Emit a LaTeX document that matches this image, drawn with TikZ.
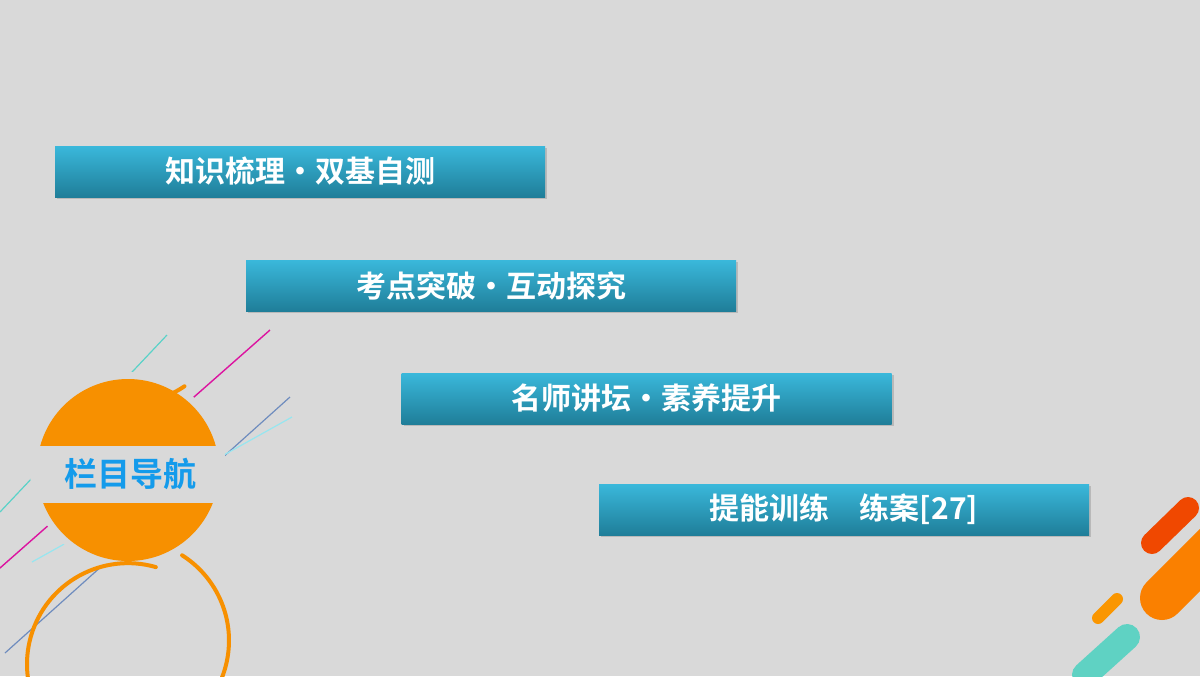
\documentclass[tikz,border=0pt]{standalone}
\usepackage{fontspec}
\newfontfamily\cjk{Noto Sans CJK SC Bold}
\definecolor{bg}{HTML}{D9D9D9}
\definecolor{org}{HTML}{F79000}
\definecolor{bt}{HTML}{3AB8DB}
\definecolor{bb}{HTML}{1F7E99}
\tikzset{banner/.style={minimum width=245pt,minimum height=25.5pt,inner sep=0pt,
  top color=bt,bottom color=bb,draw=none,text=white,font=\cjk\fontsize{15}{15}\selectfont,
  drop shadow={shadow xshift=1pt,shadow yshift=-1pt,opacity=0.35}},
 pill/.style={line cap=round}}
\usetikzlibrary{shadows}
\begin{document}
\begin{tikzpicture}[x=0.5pt,y=-0.5pt]
\fill[bg] (0,0) rectangle (1200,676);
\useasboundingbox (0,0) rectangle (1200,676);
% diagonal lines
\draw[color={rgb,255:red,90;green,210;blue,200},line width=0.6pt] (0,512) -- (167,335);
\draw[color={rgb,255:red,220;green,20;blue,160},line width=0.7pt] (0,568) -- (270,330);
\draw[color={rgb,255:red,110;green,140;blue,190},line width=0.6pt] (5,653) -- (290,397);
\draw[color={rgb,255:red,150;green,230;blue,240},line width=0.6pt] (32,562) -- (292,417);
% circle
\fill[bg] (128,470) circle (98);
\begin{scope}
\clip (128,470) circle (91);
\fill[org] (20,360) rectangle (240,446);
\fill[org] (20,503) rectangle (240,580);
\end{scope}
\begin{scope}[org,line width=2pt,line cap=round]
\draw ([shift={(74:101)}]128,470) arc[start angle=-74,end angle=-268,radius=101];
\draw ([shift={(57.6:101)}]128,470) arc[start angle=-57.6,end angle=42,radius=101];
\draw ([shift={(-56:101)}]128,470) arc[start angle=56,end angle=70,radius=101];
\end{scope}
\node[font=\cjk\fontsize{16.5}{16.5}\selectfont,text={rgb,255:red,20;green,155;blue,235}] (nav) at (130,474) {栏目导航};
% banners
\node[banner] (b1) at (300,171.5) {知识梳理·双基自测};
\node[banner] (b2) at (491,285.5) {考点突破·互动探究};
\node[banner] (b3) at (646.5,398.5) {名师讲坛·素养提升};
\node[banner] (b4) at (844,509.5) {提能训练\quad 练案[27]};
% pills
\draw[pill,line width=11pt,color={rgb,255:red,240;green,72;blue,0}] (1152,543) -- (1188,508);
\draw[pill,line width=22pt,color={rgb,255:red,250;green,128;blue,0}] (1162,598) -- (1215,545);
\draw[pill,line width=6pt,color={rgb,255:red,250;green,150;blue,0}] (1098,618) -- (1117,599);
\draw[pill,line width=13pt,color={rgb,255:red,95;green,210;blue,195}] (1085,675) -- (1127,637);
\end{tikzpicture}
\end{document}
